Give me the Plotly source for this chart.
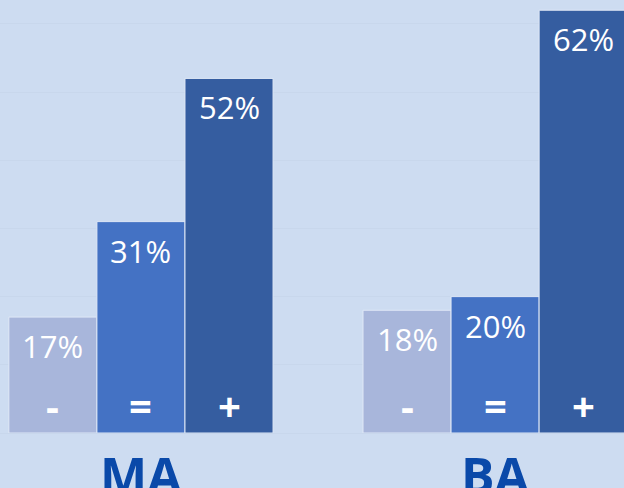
import plotly.graph_objects as go

categories = ["MA", "BA"]
series_names = ["-", "=", "+"]
values = {
    "-": [17, 18],
    "=": [31, 20],
    "+": [52, 62],
}
colors = {"-": "#a8b6db", "=": "#4472c4", "+": "#355da0"}

bargap = 0.254
n = len(series_names)
w = (1 - bargap) / n

fig = go.Figure()
xs = list(range(len(categories)))
for j, s in enumerate(series_names):
    fig.add_trace(go.Bar(
        x=xs, y=values[s], name=s,
        marker=dict(color=colors[s], line=dict(color="#dfe8f6", width=1)),
        hoverinfo="skip",
    ))

annotations = []
for j, s in enumerate(series_names):
    for i, v in enumerate(values[s]):
        xc = i + (j - (n - 1) / 2) * w
        annotations.append(dict(
            x=xc, y=v, xref="x", yref="y", text=f"{v}%", showarrow=False,
            yanchor="middle", yshift=-29,
            font=dict(family="Open Sans", size=31, color="white"),
        ))
        annotations.append(dict(
            x=xc, y=0, xref="x", yref="y", text=f"<b>{s}</b>", showarrow=False,
            yanchor="middle", yshift=28,
            font=dict(family="Open Sans", size=40, color="white"),
        ))
for i, c in enumerate(categories):
    annotations.append(dict(
        x=i, y=0, xref="x", yref="y", text=f"<b>{c}</b>", showarrow=False,
        yanchor="top", yshift=-6,
        font=dict(family="Open Sans", size=50, color="#0a49a9"),
    ))

fig.update_layout(
    width=624, height=488,
    margin=dict(l=0, r=0, t=0, b=55),
    paper_bgcolor="#cddcf1", plot_bgcolor="#cddcf1",
    barmode="group", bargap=bargap, bargroupgap=0,
    showlegend=False,
    annotations=annotations,
    xaxis=dict(range=[-0.398, 1.364], showticklabels=False, showgrid=False,
               zeroline=False, fixedrange=True),
    yaxis=dict(range=[0, 63.5], dtick=10, showticklabels=False,
               gridcolor="#c8d7ec", gridwidth=1, zeroline=True,
               zerolinecolor="#c8d7ec", zerolinewidth=1, fixedrange=True),
)

fig.write_html("out.html")
